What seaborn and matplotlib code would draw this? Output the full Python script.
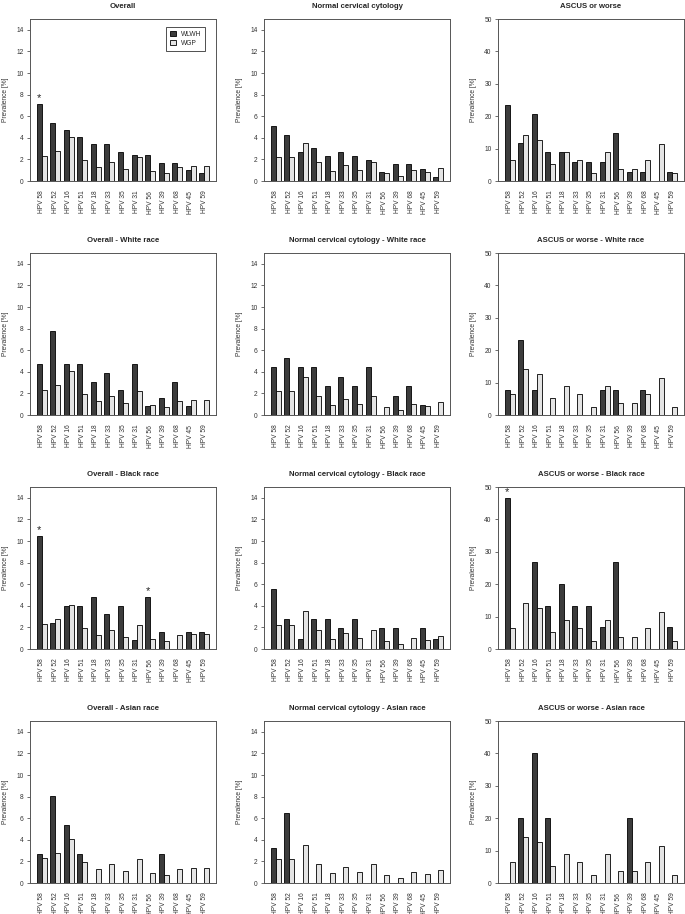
import pandas as pd
import matplotlib
matplotlib.use('Agg')
import matplotlib.pyplot as plt
import seaborn as sns

HPV_TYPES = ['HPV 58', 'HPV 52', 'HPV 16', 'HPV 51', 'HPV 18', 'HPV 33', 'HPV 35',
             'HPV 31', 'HPV 56', 'HPV 39', 'HPV 68', 'HPV 45', 'HPV 59']
GROUPS = ['WLWH', 'WGP']

# WGP (general population) values - same reference in each race row
wgp_overall = [2.3, 2.8, 4.1, 1.9, 1.3, 1.8, 1.1, 2.2, 0.9, 0.7, 1.3, 1.35, 1.35]
wgp_normal = [2.2, 2.2, 3.5, 1.75, 0.9, 1.5, 1.0, 1.8, 0.75, 0.5, 1.0, 0.8, 1.2]
wgp_ascus = [6.4, 14.1, 12.8, 5.1, 9.0, 6.4, 2.6, 9.0, 3.8, 3.8, 6.4, 11.5, 2.6]

# WLWH values per panel
wlwh_overall = [7.1, 5.4, 4.7, 4.1, 3.4, 3.4, 2.7, 2.4, 2.4, 1.7, 1.7, 1.0, 0.7]
wlwh_normal = [5.1, 4.3, 2.7, 3.1, 2.3, 2.7, 2.3, 1.95, 0.8, 1.55, 1.55, 1.15, 0.4]
wlwh_ascus = [23.5, 11.8, 20.6, 8.8, 8.8, 5.9, 5.9, 5.9, 14.7, 2.9, 2.9, 0, 2.9]

wlwh_overall_white = [4.7, 7.8, 4.7, 4.7, 3.1, 3.9, 2.3, 4.7, 0.8, 1.55, 3.1, 0.8, 0]
wlwh_normal_white = [4.4, 5.3, 4.4, 4.4, 2.65, 3.5, 2.65, 4.4, 0, 1.75, 2.65, 0.9, 0]
wlwh_ascus_white = [7.7, 23.1, 7.7, 0, 0, 0, 0, 7.7, 7.7, 0, 7.7, 0, 0]

wlwh_overall_black = [10.5, 2.4, 4.0, 4.0, 4.8, 3.2, 4.0, 0.8, 4.8, 1.6, 0, 1.6, 1.6]
wlwh_normal_black = [5.6, 2.8, 0.9, 2.8, 2.8, 1.9, 2.8, 0, 1.9, 1.9, 0, 1.9, 0.9]
wlwh_ascus_black = [46.7, 0, 26.7, 13.3, 20.0, 13.3, 13.3, 6.7, 26.7, 0, 0, 0, 6.7]

wlwh_overall_asian = [2.7, 8.1, 5.4, 2.7, 0, 0, 0, 0, 0, 2.7, 0, 0, 0]
wlwh_normal_asian = [3.2, 6.45, 0, 0, 0, 0, 0, 0, 0, 0, 0, 0, 0]
wlwh_ascus_asian = [0, 20, 40, 20, 0, 0, 0, 0, 0, 20, 0, 0, 0]

# significance stars (index of HPV type) per panel
stars_overall = [0]
stars_overall_black = [0, 8]
stars_ascus_black = [0]

panels = [
    ('Overall', wlwh_overall, wgp_overall, 15, stars_overall),
    ('Normal cervical cytology', wlwh_normal, wgp_normal, 15, []),
    ('ASCUS or worse', wlwh_ascus, wgp_ascus, 50, []),
    ('Overall - White race', wlwh_overall_white, wgp_overall, 15, []),
    ('Normal cervical cytology - White race', wlwh_normal_white, wgp_normal, 15, []),
    ('ASCUS or worse - White race', wlwh_ascus_white, wgp_ascus, 50, []),
    ('Overall - Black race', wlwh_overall_black, wgp_overall, 15, stars_overall_black),
    ('Normal cervical cytology - Black race', wlwh_normal_black, wgp_normal, 15, []),
    ('ASCUS or worse - Black race', wlwh_ascus_black, wgp_ascus, 50, stars_ascus_black),
    ('Overall - Asian race', wlwh_overall_asian, wgp_overall, 15, []),
    ('Normal cervical cytology - Asian race', wlwh_normal_asian, wgp_normal, 15, []),
    ('ASCUS or worse - Asian race', wlwh_ascus_asian, wgp_ascus, 50, []),
]

sns.set_style('ticks')
plt.rcParams['font.family'] = ['Liberation Sans', 'DejaVu Sans']

W, H = 685, 914
fig = plt.figure(figsize=(W / 100, H / 100), dpi=100)

col_left = [30, 264, 498]
row_top = [19, 253, 487, 721]
ax_w, ax_h = 186, 162
palette = {'WLWH': '#3c3c3c', 'WGP': '#e4e4e4'}
axis_col = '#333333'

for k, (title, wlwh, wgp, ymax, stars) in enumerate(panels):
    r, c = divmod(k, 3)
    ax = fig.add_axes([col_left[c] / W, 1 - (row_top[r] + ax_h) / H, ax_w / W, ax_h / H])
    df = pd.DataFrame({
        'hpv': HPV_TYPES * 2,
        'group': ['WLWH'] * 13 + ['WGP'] * 13,
        'value': list(wlwh) + list(wgp),
    })
    sns.barplot(data=df, x='hpv', y='value', hue='group', hue_order=GROUPS,
                palette=palette, width=0.74, edgecolor='black', linewidth=0.6,
                saturation=1, legend=(k == 0), ax=ax)
    ax.set_xlim(-0.87, 12.87)
    ax.set_ylim(0, ymax)
    if ymax == 15:
        ax.set_yticks(range(0, 15, 2))
    else:
        ax.set_yticks(range(0, 51, 10))
    ax.set_title(title, fontsize=5.6, fontweight='bold', pad=8)
    ax.set_xlabel('')
    ax.set_ylabel('Prevalence [%]', fontsize=4.8, color=axis_col, labelpad=5)
    ax.tick_params(axis='x', length=0, labelsize=4.8, labelcolor=axis_col,
                   rotation=90, pad=7)
    ax.tick_params(axis='y', length=2.5, width=0.5, labelsize=4.8,
                   labelcolor=axis_col, color=axis_col, pad=2)
    for sp in ax.spines.values():
        sp.set_visible(True)
        sp.set_linewidth(0.7)
        sp.set_color('#555555')

    # stars above WLWH bars
    bars = ax.containers[0]
    for i in stars:
        b = bars[i]
        ax.text(b.get_x() + b.get_width() / 2, b.get_height() + ymax * 0.005, '*',
                ha='center', va='bottom', fontsize=8)

    if k == 0:
        leg = ax.legend(loc='upper right', fontsize=4.8, frameon=True,
                        fancybox=False, edgecolor='black', handlelength=0.8,
                        handleheight=0.8, borderpad=0.6, labelspacing=0.3,
                        handletextpad=0.8, bbox_to_anchor=(0.96, 0.97),
                        title=None)
        leg.get_frame().set_linewidth(0.6)

fig.savefig('out.png', dpi=100)
